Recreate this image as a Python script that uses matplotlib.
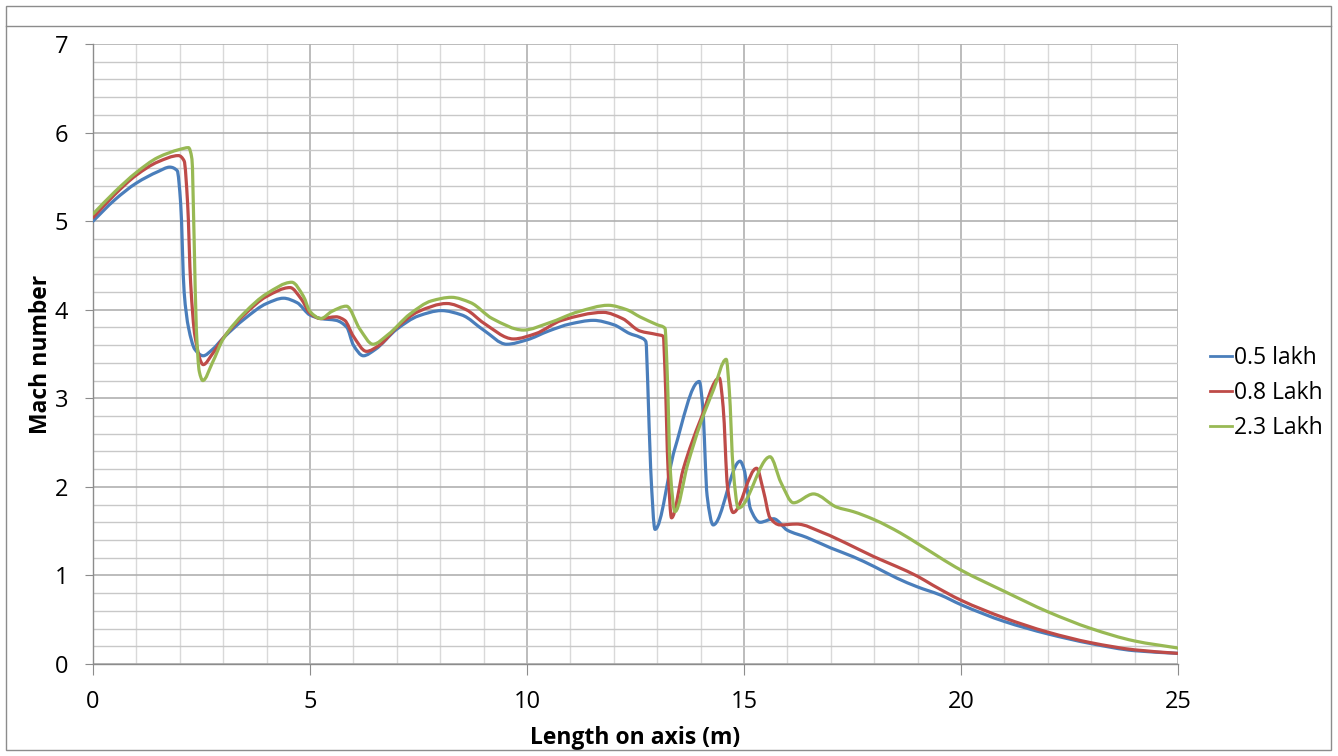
import numpy as np
import matplotlib
matplotlib.use("Agg")
import matplotlib.pyplot as plt
from matplotlib.path import Path
from matplotlib.patches import PathPatch
from matplotlib.lines import Line2D
from matplotlib.ticker import MultipleLocator

plt.rcParams['font.family'] = ['Open Sans', 'DejaVu Sans']

# Mach number along the axis for three Reynolds numbers
series_labels = ["0.5 lakh", "0.8 Lakh", "2.3 Lakh"]
series_colors = ["#4a7ebb", "#be4b48", "#98b954"]

x_05 = [0, 0.5, 1.0, 1.5, 1.77, 1.94, 2.02, 2.1, 2.2, 2.35, 2.54, 2.75, 3.0, 3.5, 4.0,
        4.39, 4.7, 5.0, 5.25, 5.6, 5.85, 6.0, 6.23, 6.5, 7.0, 7.5, 8.03, 8.5, 9.0, 9.53,
        10.0, 10.5, 11.0, 11.53, 12.0, 12.37, 12.6, 12.74, 12.78, 12.85, 12.95, 13.4,
        13.97, 14.05, 14.15, 14.29, 14.91, 15.0, 15.15, 15.37, 15.68, 16.0, 16.44, 17.0,
        17.52, 18.0, 18.52, 19.0, 19.52, 20, 21, 22, 23, 24, 25]
m_05 = [5.0, 5.24, 5.43, 5.56, 5.61, 5.57, 5.2, 4.2, 3.8, 3.55, 3.48, 3.55, 3.68, 3.9, 4.07,
        4.13, 4.08, 3.94, 3.9, 3.88, 3.8, 3.6, 3.48, 3.55, 3.78, 3.93, 3.99, 3.94, 3.77, 3.61,
        3.66, 3.76, 3.84, 3.88, 3.83, 3.73, 3.69, 3.64, 3.2, 2.2, 1.52, 2.42,
        3.19, 2.9, 1.9, 1.57, 2.29, 2.2, 1.75, 1.6, 1.64, 1.51, 1.43, 1.31,
        1.21, 1.1, 0.97, 0.87, 0.78, 0.67, 0.48, 0.34, 0.23, 0.15, 0.12]

x_08 = [0, 0.5, 1.0, 1.5, 1.97, 2.1, 2.18, 2.25, 2.35, 2.54, 2.75, 3.0, 3.5, 4.0, 4.54,
        4.8, 5.0, 5.25, 5.6, 5.8, 6.0, 6.3, 6.6, 7.0, 7.5, 8.15, 8.6, 9.0, 9.69, 10.2,
        10.8, 11.76, 12.2, 12.6, 12.99, 13.14, 13.18, 13.25, 13.33, 13.6, 14.0, 14.43,
        14.52, 14.62, 14.75, 15.29, 15.45, 15.6, 15.83, 16.21, 16.83, 17.37, 18.0, 18.52,
        19.0, 19.35, 20, 21, 22, 23, 24, 25]
m_08 = [5.04, 5.3, 5.52, 5.67, 5.74, 5.68, 5.2, 4.3, 3.7, 3.38, 3.5, 3.68, 3.95, 4.15, 4.25,
        4.12, 3.96, 3.9, 3.92, 3.88, 3.7, 3.53, 3.6, 3.8, 3.98, 4.07, 4.0, 3.85, 3.67, 3.73,
        3.88, 3.97, 3.9, 3.76, 3.72, 3.7, 3.3, 2.2, 1.65, 2.2, 2.76, 3.23,
        2.9, 2.0, 1.71, 2.21, 1.95, 1.65, 1.57, 1.58, 1.48, 1.36, 1.21, 1.1,
        0.99, 0.89, 0.72, 0.52, 0.36, 0.24, 0.16, 0.12]

x_23 = [0, 0.5, 1.0, 1.5, 2.0, 2.2, 2.28, 2.33, 2.38, 2.45, 2.53, 2.75, 3.0, 3.5, 4.0,
        4.58, 4.85, 5.0, 5.25, 5.5, 5.84, 6.15, 6.45, 6.8, 7.3, 7.8, 8.26, 8.7, 9.2,
        9.92, 10.5, 11.2, 11.87, 12.3, 12.6, 13.0, 13.18, 13.23, 13.3, 13.41, 13.7, 14.0,
        14.3, 14.59, 14.66, 14.75, 14.87, 15.6, 15.85, 16.14, 16.6, 17.14, 17.52, 18.0,
        18.6, 19.0, 20, 21, 22, 23, 24, 25]
m_23 = [5.08, 5.33, 5.55, 5.72, 5.81, 5.83, 5.7, 4.8, 3.8, 3.3, 3.2, 3.4, 3.67, 3.97, 4.18,
        4.31, 4.15, 3.98, 3.9, 3.98, 4.04, 3.78, 3.61, 3.72, 3.95, 4.1, 4.14, 4.08, 3.9,
        3.77, 3.85, 3.98, 4.05, 4.0, 3.92, 3.83, 3.79, 3.3, 2.2, 1.72, 2.25, 2.72,
        3.1, 3.44, 3.1, 2.2, 1.76, 2.34, 2.05, 1.82, 1.92, 1.77, 1.72, 1.63,
        1.48, 1.36, 1.06, 0.82, 0.59, 0.40, 0.26, 0.18]

x_ticks = [0, 5, 10, 15, 20, 25]
y_ticks = [0, 1, 2, 3, 4, 5, 6, 7]


def smooth_path(xs, ys):
    """Smoothed-line path: cubic Bezier segments with shape-preserving tangents."""
    xs = np.asarray(xs, float)
    ys = np.asarray(ys, float)
    h = np.diff(xs)
    d = np.diff(ys) / h
    m = np.zeros_like(xs)
    m[0], m[-1] = d[0], d[-1]
    for i in range(1, len(xs) - 1):
        if d[i - 1] * d[i] <= 0:
            m[i] = 0.0
        else:
            w1 = 2 * h[i] + h[i - 1]
            w2 = h[i] + 2 * h[i - 1]
            m[i] = (w1 + w2) / (w1 / d[i - 1] + w2 / d[i])
    verts = [(xs[0], ys[0])]
    codes = [Path.MOVETO]
    for i in range(len(xs) - 1):
        k = h[i] / 3.0
        verts += [(xs[i] + k, ys[i] + m[i] * k),
                  (xs[i + 1] - k, ys[i + 1] - m[i + 1] * k),
                  (xs[i + 1], ys[i + 1])]
        codes += [Path.CURVE4] * 3
    return Path(verts, codes)


fig = plt.figure(figsize=(13.38, 7.56), dpi=100)
ax = fig.add_axes([93 / 1338, 1 - 664 / 756, (1178 - 93) / 1338, (664 - 44) / 756])

ax.set_xlim(0, 25)
ax.set_ylim(0, 7)
ax.xaxis.set_major_locator(MultipleLocator(5))
ax.xaxis.set_minor_locator(MultipleLocator(1))
ax.yaxis.set_major_locator(MultipleLocator(1))
ax.yaxis.set_minor_locator(MultipleLocator(0.2))
ax.set_xticks(x_ticks)
ax.set_yticks(y_ticks)

ax.grid(which='minor', axis='x', color='#d9d9d9', linewidth=1.0)
ax.grid(which='minor', axis='y', color='#c8c8c8', linewidth=1.0)
ax.grid(which='major', axis='both', color='#b0b0b0', linewidth=1.2)
ax.set_axisbelow(True)

for side in ('top', 'right'):
    ax.spines[side].set_visible(False)
for side in ('left', 'bottom'):
    ax.spines[side].set_color('#8c8c8c')
    ax.spines[side].set_linewidth(1.0)

ax.tick_params(which='minor', length=0)
ax.tick_params(which='major', direction='out', color='#8c8c8c', labelsize=17,
               labelcolor='#000000')
ax.tick_params(axis='y', which='major', length=6, pad=12)
ax.tick_params(axis='x', which='major', length=8, pad=11)

handles = []
for xs, ys, lab, col in zip([x_05, x_08, x_23], [m_05, m_08, m_23],
                            series_labels, series_colors):
    patch = PathPatch(smooth_path(xs, ys), facecolor='none', edgecolor=col,
                      linewidth=2.3, capstyle='round', joinstyle='round',
                      transform=ax.transData, zorder=3)
    ax.add_patch(patch)
    handles.append(Line2D([], [], color=col, linewidth=2.0, label=lab))

ax.set_xlabel("Length on axis (m)", fontsize=16.5, fontweight='bold', labelpad=8)
ax.set_ylabel("Mach number", fontsize=16.5, fontweight='bold', labelpad=1)

fig.legend(handles=handles, loc='center left', bbox_to_anchor=(1201 / 1338, 1 - 393 / 756),
           frameon=False, fontsize=16.5, handlelength=0.95, handletextpad=0.1,
           labelspacing=0.5, borderaxespad=0)

# chart frame
fig.add_artist(plt.Rectangle((6 / 1338, 6 / 756), 1325 / 1338, 744 / 756,
                             transform=fig.transFigure, fill=False,
                             edgecolor='#8c8c8c', linewidth=1.0))
fig.add_artist(Line2D([6 / 1338, 1331 / 1338], [1 - 26 / 756, 1 - 26 / 756],
                      transform=fig.transFigure, color='#8c8c8c', linewidth=1.0))

fig.savefig("out.png", dpi=100)
